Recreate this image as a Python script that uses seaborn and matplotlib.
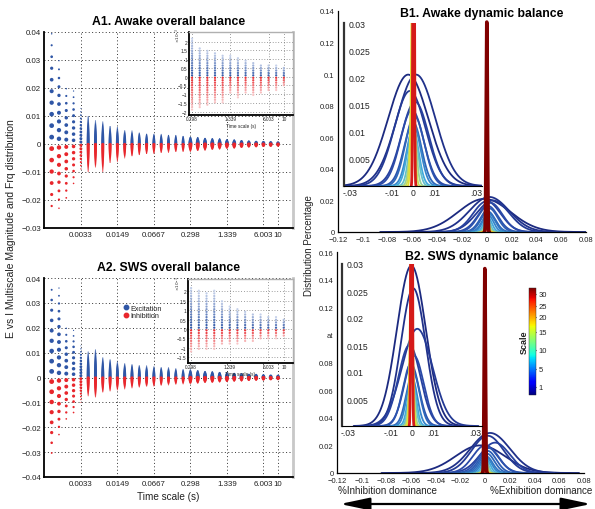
import numpy as np
import pandas as pd
import matplotlib
matplotlib.use('Agg')
import matplotlib.pyplot as plt
import seaborn as sns
from matplotlib.lines import Line2D
from matplotlib.patches import FancyArrowPatch, ArrowStyle
from matplotlib.colors import LinearSegmentedColormap, Normalize
from matplotlib.cm import ScalarMappable

# ---------------- data ----------------
time_tick_pos = [4, 9, 14, 19, 24, 29, 31]
time_tick_labels = ['0.0033', '0.0149', '0.0667', '0.298', '1.339', '6.003', '10']
inset_cols = list(range(19, 32))
inset_tick_pos = [19, 24, 29, 31]
inset_tick_labels = ['0.298', '1.339', '6.003', '10']

# A: extent of excitation (positive) and inhibition (negative) magnitudes per time scale
a1_exc_top = [0.0395, 0.0300, 0.0210, 0.0198, 0.0130, 0.0100, 0.0085, 0.0080,
              0.0065, 0.0060, 0.0050, 0.0047, 0.0042, 0.0038, 0.0036, 0.0035,
              0.0033, 0.0032, 0.0030, 0.0026, 0.0024, 0.0022, 0.0020, 0.0019,
              0.0016, 0.0015, 0.0013, 0.0011, 0.0010, 0.0009, 0.0008, 0.0007]
a1_inh_bot = [-0.0257, -0.0237, -0.0215, -0.0157, -0.0098, -0.0100, -0.0085, -0.0100,
              -0.0068, -0.0062, -0.0050, -0.0045, -0.0040, -0.0036, -0.0034, -0.0032,
              -0.0030, -0.0029, -0.0028, -0.0026, -0.0024, -0.0022, -0.0020, -0.0018,
              -0.0016, -0.0015, -0.0013, -0.0011, -0.0010, -0.0009, -0.0008, -0.0007]
a2_exc_top = [0.0384, 0.0360, 0.0210, 0.0193, 0.0128, 0.0104, 0.0114, 0.0081,
              0.0074, 0.0063, 0.0057, 0.0054, 0.0050, 0.0047, 0.0044, 0.0042,
              0.0040, 0.0036, 0.0034, 0.0031, 0.0029, 0.0026, 0.0024, 0.0022,
              0.0020, 0.0018, 0.0016, 0.0014, 0.0013, 0.0011, 0.0010, 0.0009]
a2_inh_bot = [-0.0323, -0.0242, -0.0182, -0.0162, -0.0101, -0.0074, -0.0081, -0.0061,
              -0.0055, -0.0050, -0.0046, -0.0042, -0.0040, -0.0037, -0.0035, -0.0033,
              -0.0030, -0.0028, -0.0026, -0.0025, -0.0023, -0.0021, -0.0020, -0.0018,
              -0.0017, -0.0015, -0.0014, -0.0012, -0.0011, -0.0010, -0.0009, -0.0008]
level_step = [0.0041, 0.0031, 0.0026, 0.0022, 0.0012] + [0.0004] * 27

# A insets (x 1e-3)
a1_in_top = [2.2, 1.75, 1.55, 1.45, 1.3, 1.2, 1.1, 1.0, 0.9, 0.75, 0.7, 0.65, 0.6]
a1_in_bot = [-1.95, -1.85, -1.75, -1.6, -1.5, -1.0, -1.2, -1.0, -1.1, -1.0, -0.9, -0.8, -0.6]
a2_in_top = [2.3, 2.05, 2.0, 2.05, 1.55, 1.2, 1.1, 1.0, 0.9, 0.8, 0.7, 0.65, 0.6]
a2_in_bot = [-1.3, -1.15, -1.1, -1.1, -0.9, -0.8, -0.8, -0.75, -0.7, -0.6, -0.55, -0.5, -0.45]

# B: fitted distributions per scale (scale, mean, sd, peak)
b1_scale = [1, 2, 3, 4, 5, 6, 7, 8, 9, 10, 12, 14, 16, 18, 20, 22, 24, 26, 28, 31]
b1_mu = [-0.002, 0.002, 0.005, 0.000, 0.003, 0.001, 0.002, 0.001, 0.0015, 0.001,
         0.0008, 0.0005, 0.0004, 0.0003, 0.0002, 0.0001, 0.0, 0.0, 0.0, 0.0]
b1_sd = [0.021, 0.016, 0.013, 0.011, 0.0095, 0.008, 0.0068, 0.0058, 0.005, 0.0042,
         0.0032, 0.0024, 0.0018, 0.0014, 0.0011, 0.0009, 0.0007, 0.0006, 0.0005, 0.0005]
b1_peak = [0.0210, 0.0222, 0.0200, 0.0195, 0.0185, 0.0165, 0.0150, 0.0130, 0.0120, 0.0110,
           0.0095, 0.0085, 0.0075, 0.0065, 0.0060, 0.0055, 0.0050, 0.0050, 0.0060, 0.133]

b1i_scale = [1, 2, 3, 4, 5, 6, 8, 10, 12, 14, 16, 18, 19, 28]
b1i_mu = [-0.0023, 0.0015, -0.0015, 0.0010, -0.0005, 0.0008, 0.0, 0.0004, 0.0, 0.0002,
          0.0, -0.0002, -0.0003, 0.0003]
b1i_sd = [0.0096, 0.0092, 0.0075, 0.0065, 0.0055, 0.0047, 0.0040, 0.0033, 0.0027, 0.0021,
          0.0015, 0.0010, 0.0006, 0.0003]
b1i_peak = [0.0205, 0.0205, 0.0175, 0.0155, 0.0140, 0.0128, 0.0118, 0.0110, 0.0105, 0.0105,
            0.0120, 0.0200, 0.0400, 0.1000]

b2_scale = [1, 2, 3, 4, 5, 6, 7, 8, 9, 10, 12, 14, 16, 18, 20, 22, 24, 26, 28, 31]
b2_mu = [-0.004, 0.004, 0.002, 0.008, 0.000, 0.003, 0.002, 0.0015, 0.001, 0.001,
         0.0008, 0.0005, 0.0003, 0.0002, 0.0001, 0.0, 0.0, 0.0, 0.0, -0.0003]
b2_sd = [0.020, 0.016, 0.013, 0.012, 0.010, 0.0085, 0.007, 0.006, 0.005, 0.0042,
         0.0032, 0.0024, 0.0018, 0.0013, 0.0010, 0.0008, 0.0007, 0.0006, 0.0005, 0.0005]
b2_peak = [0.020, 0.029, 0.027, 0.022, 0.020, 0.018, 0.016, 0.014, 0.012, 0.011,
           0.010, 0.009, 0.008, 0.007, 0.006, 0.006, 0.006, 0.007, 0.009, 0.148]

b2i_scale = [1, 2, 3, 4, 5, 6, 8, 10, 12, 14, 16, 18, 19, 28]
b2i_mu = [-0.0003, 0.0006, 0.0025, -0.0012, 0.0010, -0.0005, 0.0005, 0.0, 0.0, 0.0,
          -0.0002, -0.0003, -0.0003, -0.0002]
b2i_sd = [0.0068, 0.0058, 0.0072, 0.0052, 0.0045, 0.0038, 0.0031, 0.0025, 0.0019, 0.0015,
          0.0011, 0.0008, 0.0006, 0.0003]
b2i_peak = [0.0297, 0.0255, 0.0180, 0.0150, 0.0130, 0.0115, 0.0100, 0.0090, 0.0085, 0.0090,
            0.0110, 0.0200, 0.0400, 0.1000]

cbar_tick_labels = ['1', '5', '10', '15', '20', '25', '30']
cbar_tick_frac = [0.075, 0.243, 0.421, 0.589, 0.729, 0.832, 0.944]

a1_yticks = [-0.03, -0.02, -0.01, 0, 0.01, 0.02, 0.03, 0.04]
a1_ylabels = ['\u22120.03', '\u22120.02', '\u22120.01', '0', '0.01', '0.02', '0.03', '0.04']
a2_yticks = [-0.04, -0.03, -0.02, -0.01, 0, 0.01, 0.02, 0.03, 0.04]
a2_ylabels = ['\u22120.04', '\u22120.03', '\u22120.02', '\u22120.01', '0', '0.01', '0.02', '0.03', '0.04']
b_xticks = [-0.12, -0.1, -0.08, -0.06, -0.04, -0.02, 0, 0.02, 0.04, 0.06, 0.08]
b_xlabels = ['\u22120.12', '\u22120.1', '\u22120.08', '\u22120.06', '\u22120.04', '\u22120.02',
             '0', '0.02', '0.04', '0.06', '0.08']
b1_yticks = [0, 0.02, 0.04, 0.06, 0.08, 0.1, 0.12, 0.14]
b1_ylabels = ['0', '0.02', '0.04', '0.06', '0.08', '0.1', '0.12', '0.14']
b2_yticks = [0, 0.02, 0.04, 0.06, 0.08, 0.1, 0.12, 0.14, 0.16]
b2_ylabels = ['0', '0.02', '0.04', '0.06', '0.08', 'at', '0.12', '0.14', '0.16']
bi_xticks = [-0.03, -0.01, 0, 0.01, 0.03]
bi_xlabels = ['-.03', '-.01', '0', '.01', '.03']
bi_yticks = [0.005, 0.01, 0.015, 0.02, 0.025, 0.03]
bi_ylabels = ['0.005', '0.01', '0.015', '0.02', '0.025', '0.03']

# ---------------- style ----------------
sns.set_theme(style='white')
plt.rcParams['font.family'] = ['Liberation Sans', 'DejaVu Sans']
plt.rcParams['axes.unicode_minus'] = True
BLUE = '#2f56a6'
RED = '#e8262c'
TXT = '#222222'
JET = matplotlib.colormaps['jet']
# jet as it appears in the printed curves (slightly muted blues)
LINE_CMAP = LinearSegmentedColormap.from_list('jetprint', [
    (0.00, '#1c2a80'), (0.12, '#2a46a6'), (0.25, '#2f6cbc'), (0.36, '#3fa6dc'),
    (0.45, '#6cc6c8'), (0.52, '#a6d68a'), (0.62, '#f0e020'), (0.75, '#f89020'),
    (0.88, '#e8201e'), (1.00, '#800000')])

W, H = 595, 510
fig = plt.figure(figsize=(W / 100, H / 100), dpi=100)
fig.patch.set_facecolor('white')


def add_ax(l, t, r, b):
    return fig.add_axes([l / W, 1 - b / H, (r - l) / W, (b - t) / H])


def dots_frame(tops, bots, steps):
    dmax = [4.8, 4.4, 4.0, 3.6, 3.0] + [3.1] * 14 + [4.0] * 13
    rec = []
    for i, (t, b) in enumerate(zip(tops, bots)):
        st = steps[i]
        v = 0.6 * st
        while v <= t + 1e-12:
            d = dmax[i] * (1 - 0.7 * (v / t) ** 2)
            rec.append((i, v, 'Excitation', (d * 0.72) ** 2))
            v += st
        v = -0.4 * st
        while v >= b - 1e-12:
            d = dmax[i] * (1 - 0.7 * (v / b) ** 2)
            rec.append((i, v, 'Inhibition', (d * 0.72) ** 2))
            v -= st
    return pd.DataFrame(rec, columns=['col', 'val', 'kind', 's'])


def inset_frame(tops, bots):
    rec = []
    for c, t, b in zip(inset_cols, tops, bots):
        v = 0.07
        while v <= t:
            rec.append((c, v, 0.12 + 0.88 * (1 - v / t)))
            v += 0.14
        v = -0.07
        while v >= b:
            rec.append((c, v, -(0.12 + 0.88 * (1 - v / b))))
            v -= 0.14
    return pd.DataFrame(rec, columns=['col', 'val', 'h'])


fade = LinearSegmentedColormap.from_list(
    'fade', [(0, RED), (0.499, '#fbe3e3'), (0.501, '#e0e7f6'), (1, BLUE)])

SMAX = 30.0


def style_grid(ax):
    ax.grid(True, which='major', color='#333333', linestyle=(0, (1, 2.5)), linewidth=0.7)
    ax.set_axisbelow(True)


def draw_a(box, tops, bots, ylim, yticks, ylabels, title):
    ax = add_ax(*box)
    df = dots_frame(tops, bots, level_step)
    sns.scatterplot(data=df, x='col', y='val', hue='kind', size='s',
                    sizes=(0.0, SMAX), size_norm=(0.0, SMAX),
                    palette={'Excitation': BLUE, 'Inhibition': RED},
                    linewidth=0, legend=False, ax=ax)
    ax.set_xlim(-1.05, 33.05)
    ax.set_ylim(*ylim)
    ax.set_xticks(time_tick_pos, time_tick_labels)
    ax.set_yticks(yticks, ylabels)
    ax.set_xlabel('')
    ax.set_ylabel('')
    style_grid(ax)
    ax.tick_params(labelsize=5.7, colors=TXT, direction='in', length=2.5, width=0.6, pad=2)
    for s in ['left', 'bottom']:
        ax.spines[s].set_color('black')
        ax.spines[s].set_linewidth(1.3)
    ax.spines['top'].set_visible(False)
    ax.spines['right'].set_color('#c8c8c8')
    ax.spines['right'].set_linewidth(2.0)
    ax.set_title(title, fontsize=8.8, fontweight='bold', color='black', pad=6)
    return ax


def draw_a_inset(box, tops, bots, ylim, yticks, ylabels):
    ax = add_ax(*box)
    ax.set_facecolor('white')
    df = inset_frame(tops, bots)
    sns.scatterplot(data=df, x='col', y='val', hue='h', palette=fade, hue_norm=(-1, 1),
                    s=2.6, linewidth=0, legend=False, ax=ax)
    ax.set_xlim(18.6, 32.2)
    ax.set_ylim(*ylim)
    ax.set_xticks(inset_tick_pos, inset_tick_labels)
    ax.set_yticks(yticks, ylabels)
    ax.set_ylabel('')
    ax.set_xlabel('Time scale (s)', fontsize=3.4, labelpad=1, color=TXT)
    ax.grid(True, color='#444444', linestyle=(0, (1, 3)), linewidth=0.5)
    ax.set_axisbelow(True)
    ax.tick_params(labelsize=3.4, colors=TXT, direction='in', length=1.5, width=0.4, pad=1)
    for s in ['left', 'bottom']:
        ax.spines[s].set_color('black')
        ax.spines[s].set_linewidth(1.3)
    for s in ['top', 'right']:
        ax.spines[s].set_color('#b0b0b0')
        ax.spines[s].set_linewidth(1.0)
    return ax


# ---------------- A panels ----------------
axA1 = draw_a((44, 33, 293, 229), a1_exc_top, a1_inh_bot, (-0.03, 0.04),
              a1_yticks, a1_ylabels, 'A1. Awake overall balance')
axA2 = draw_a((44, 279, 293, 478), a2_exc_top, a2_inh_bot, (-0.04, 0.04),
              a2_yticks, a2_ylabels, 'A2. SWS overall balance')
axA2.set_xlabel('Time scale (s)', fontsize=7.2, color=TXT, labelpad=3)

handles = [Line2D([], [], marker='o', ls='', color=BLUE, ms=3.2, label='Excitation'),
           Line2D([], [], marker='o', ls='', color=RED, ms=3.2, label='Inhibition')]
axA2.legend(handles=handles, loc='center left', bbox_to_anchor=(119 / W, 1 - 313 / H),
            bbox_transform=fig.transFigure, frameon=False, fontsize=5.2,
            handletextpad=0.1, labelspacing=0.1, borderpad=0, handlelength=1.0,
            labelcolor=TXT)

draw_a_inset((189, 33, 293, 116), a1_in_top, a1_in_bot, (-2.2, 2.55),
             [-2, -1.5, -1, -0.5, 0, 0.5, 1, 1.5, 2],
             ['\u22122', '\u22121.5', '\u22121', '\u22120.5', '0', '0.5', '1', '1.5', '2'])
draw_a_inset((188, 280, 293, 364), a2_in_top, a2_in_bot, (-1.8, 2.65),
             [-1.5, -1, -0.5, 0, 0.5, 1, 1.5, 2],
             ['\u22121.5', '\u22121', '\u22120.5', '0', '0.5', '1', '1.5', '2'])
fig.text(178 / W, 1 - 36 / H, r'$\times10^{-3}$', rotation=90, fontsize=3.0, color=TXT,
         ha='center', va='center')
fig.text(178 / W, 1 - 284 / H, r'$\times10^{-3}$', rotation=90, fontsize=3.0, color=TXT,
         ha='center', va='center')

fig.text(11 / W, 1 - 229 / H, 'E vs I Multiscale Magnitude and Frq distribution',
         rotation=90, fontsize=7.5, color=TXT, ha='center', va='center')


# ---------------- B panels ----------------
def curve_frame(scales, mus, sds, peaks, lo, hi):
    parts = []
    for s, m, sd, p in zip(scales, mus, sds, peaks):
        x = np.linspace(max(lo, m - 4 * sd), min(hi, m + 4 * sd), 500)
        y = p * np.exp(-0.5 * ((x - m) / sd) ** 2)
        parts.append(pd.DataFrame({'x': x, 'y': y, 'scale': s}))
    return pd.concat(parts, ignore_index=True)


def draw_b(box, scales, mus, sds, peaks, ylim, yticks, ylabels, title, title_y):
    ax = add_ax(*box)
    df = curve_frame(scales, mus, sds, peaks, -0.12, 0.08)
    sns.lineplot(data=df, x='x', y='y', hue='scale', palette=LINE_CMAP, hue_norm=(1, 31),
                 estimator=None, sort=False, legend=False, linewidth=1.3, ax=ax)
    ax.lines[-1].set_linewidth(2.6)
    ax.set_xlim(-0.12, 0.08)
    ax.set_ylim(*ylim)
    ax.set_xticks(b_xticks, b_xlabels)
    ax.set_yticks(yticks, ylabels)
    ax.set_xlabel('')
    ax.set_ylabel('')
    ax.tick_params(labelsize=5.5, colors=TXT, direction='in', length=3, width=0.6)
    ax.tick_params(axis='x', pad=3.2)
    ax.tick_params(axis='y', pad=2.5)
    for s in ['top', 'right']:
        ax.spines[s].set_visible(False)
    for s in ['left', 'bottom']:
        ax.spines[s].set_color('black')
        ax.spines[s].set_linewidth(0.9)
    fig.text(482 / W, 1 - title_y / H, title, fontsize=8.8, fontweight='bold',
             ha='center', va='center', color='black')
    return ax


def draw_b_inset(box, scales, mus, sds, peaks):
    ax = add_ax(*box)
    ax.patch.set_alpha(0)
    df = curve_frame(scales, mus, sds, peaks, -0.033, 0.033)
    sns.lineplot(data=df, x='x', y='y', hue='scale', palette=LINE_CMAP, hue_norm=(1, 31),
                 estimator=None, sort=False, legend=False, linewidth=1.3, ax=ax)
    ax.lines[-1].set_linewidth(2.0)
    ax.set_xlim(-0.033, 0.033)
    ax.set_ylim(0, 0.03)
    ax.set_xticks(bi_xticks, bi_xlabels)
    ax.set_yticks(bi_yticks, bi_ylabels)
    ax.set_xlabel('')
    ax.set_ylabel('')
    ax.tick_params(axis='x', labelsize=6.2, colors=TXT, direction='in', length=2, width=0.6, pad=1.5)
    ax.tick_params(axis='y', labelsize=6.2, colors=TXT, direction='in', length=2, width=0.6, pad=-3)
    for lbl in ax.get_yticklabels():
        lbl.set_horizontalalignment('left')
    for s in ['top', 'right']:
        ax.spines[s].set_visible(False)
    ax.spines['left'].set_color('#333333')
    ax.spines['left'].set_linewidth(1.6)
    ax.spines['bottom'].set_color('black')
    ax.spines['bottom'].set_linewidth(0.8)
    return ax


axB1 = draw_b((338, 12, 586, 233), b1_scale, b1_mu, b1_sd, b1_peak, (0, 0.14),
              b1_yticks, b1_ylabels, 'B1. Awake dynamic balance', 14)
axB2 = draw_b((337, 253, 584, 474), b2_scale, b2_mu, b2_sd, b2_peak, (0, 0.16),
              b2_yticks, b2_ylabels, 'B2. SWS dynamic balance', 257)

draw_b_inset((344, 24, 482, 187), b1i_scale, b1i_mu, b1i_sd, b1i_peak)
draw_b_inset((342, 265, 482, 427), b2i_scale, b2i_mu, b2i_sd, b2i_peak)

fig.text(309 / W, 1 - 246 / H, 'Distribution Percentage', rotation=90, fontsize=7,
         color=TXT, ha='center', va='center')

# colorbar
cax = add_ax(529, 289, 536, 396)
cb = fig.colorbar(ScalarMappable(norm=Normalize(0, 1), cmap=JET), cax=cax)
cb.set_ticks(cbar_tick_frac, labels=cbar_tick_labels)
cb.outline.set_linewidth(0.3)
cax.tick_params(labelsize=5.5, length=1.2, width=0.8, direction='in', colors=TXT, pad=2)
fig.text(524 / W, 1 - 342 / H, 'Scale', rotation=90, fontsize=6.5,
         fontweight='bold', color=TXT, ha='center', va='center')

fig.text(387 / W, 1 - 491 / H, '%Inhibition dominance', fontsize=7.1, color=TXT,
         ha='center', va='center')
fig.text(541 / W, 1 - 491 / H, '%Exhibition dominance', fontsize=7.1, color=TXT,
         ha='center', va='center')

arr = FancyArrowPatch((340 / W, 1 - 505 / H), (591 / W, 1 - 505 / H),
                      transform=fig.transFigure,
                      arrowstyle=ArrowStyle('<|-|>', head_length=1.8, head_width=0.38),
                      mutation_scale=10, lw=1.6, color='black', shrinkA=0, shrinkB=0)
fig.add_artist(arr)

fig.savefig('out.png', dpi=100, facecolor='white')
